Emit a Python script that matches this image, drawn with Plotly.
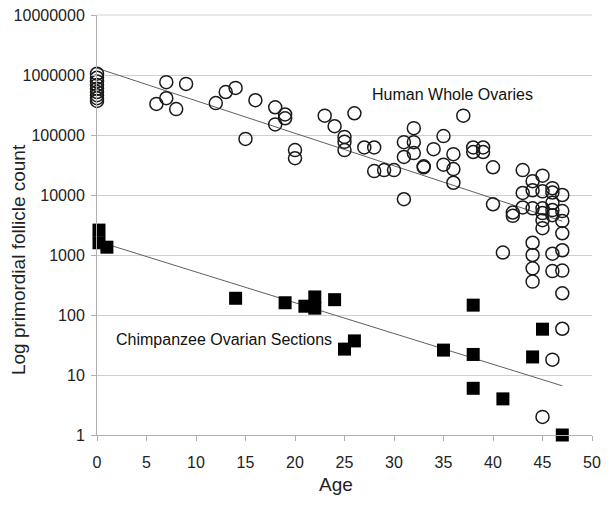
import plotly.graph_objects as go

# Human whole ovaries: age, primordial follicle count
human_age = [0, 0, 0, 0, 0, 0, 0, 0, 0,
             6, 7, 7, 8, 9,
             12, 13, 14, 15, 16,
             18, 18, 19, 19, 20, 20,
             23, 24, 25, 25, 25, 26,
             27, 28, 28, 29, 30,
             31, 31, 31, 32, 32, 32,
             33, 33, 34, 35, 35,
             36, 36, 36, 37,
             38, 38, 39, 39,
             40, 40, 41,
             42, 42,
             43, 43, 43,
             44, 44, 44, 44, 44, 44, 44,
             45, 45, 45, 45, 45, 45, 45,
             46, 46, 46, 46, 46, 46, 46, 46,
             47, 47, 47, 47, 47, 47, 47, 47]
human_count = [1050000, 900000, 780000, 680000, 590000, 520000, 460000, 410000, 370000,
               330000, 760000, 410000, 270000, 710000,
               340000, 520000, 610000, 86000, 380000,
               290000, 150000, 220000, 190000, 56000, 41000,
               210000, 140000, 93000, 77000, 56000, 230000,
               62000, 62000, 25000, 26000, 26000,
               76000, 43000, 8500, 130000, 76000, 50000,
               30000, 29000, 58000, 96000, 32000,
               48000, 27000, 16000, 210000,
               62000, 52000, 62000, 52000,
               29000, 7000, 1100,
               5100, 4500,
               26000, 10800, 6200,
               17000, 12000, 6000, 1600, 1000, 600, 360,
               21000, 11500, 6000, 5000, 3800, 2800, 2,
               13000, 11000, 7400, 5600, 4600, 1050, 540, 18,
               10000, 5400, 3700, 2300, 1200, 550, 230, 59]

# Chimpanzee ovarian sections
chimp_age = [0.2, 0.2, 1, 14, 19, 21, 22, 22, 24, 25, 26, 35, 38, 38, 38, 41, 44, 45, 47]
chimp_count = [2600, 1600, 1350, 190, 160, 140, 200, 130, 180, 27, 37, 26, 146, 22, 6, 4, 20, 58, 1]

# Trend lines
human_trend_age = [0, 47]
human_trend_count = [1300000, 3660]
chimp_trend_age = [0, 47]
chimp_trend_count = [1700, 6.6]

y_tick_vals = [1, 10, 100, 1000, 10000, 100000, 1000000, 10000000]
y_tick_text = ["1", "10", "100", "1000", "10000", "100000", "1000000", "10000000"]
x_tick_vals = [0, 5, 10, 15, 20, 25, 30, 35, 40, 45, 50]

FONT = "Liberation Sans, Arial, Helvetica, sans-serif"
TXT = "#222222"
GRID = "#cfcfcf"

fig = go.Figure()
fig.add_trace(go.Scatter(x=human_trend_age, y=human_trend_count, mode="lines",
                         line=dict(color="#606060", width=1), showlegend=False, hoverinfo="skip"))
fig.add_trace(go.Scatter(x=chimp_trend_age, y=chimp_trend_count, mode="lines",
                         line=dict(color="#606060", width=1), showlegend=False, hoverinfo="skip"))
fig.add_trace(go.Scatter(x=human_age, y=human_count, mode="markers", name="Human Whole Ovaries",
                         marker=dict(symbol="circle-open", size=13, color="#1a1a1a",
                                     line=dict(width=1.5, color="#1a1a1a")),
                         cliponaxis=False, showlegend=False))
fig.add_trace(go.Scatter(x=chimp_age, y=chimp_count, mode="markers", name="Chimpanzee Ovarian Sections",
                         marker=dict(symbol="square", size=13, color="#000000",
                                     line=dict(width=0)),
                         cliponaxis=False, showlegend=False))

fig.add_annotation(x=35.9, y=5.67, xref="x", yref="y", text="Human Whole Ovaries",
                   showarrow=False, font=dict(family=FONT, size=16, color="#111111"))
fig.add_annotation(x=12.8, y=1.6, xref="x", yref="y", text="Chimpanzee Ovarian Sections",
                   showarrow=False, font=dict(family=FONT, size=16, color="#111111"))
# axis titles
fig.add_annotation(x=-0.1596, y=0.419, xref="paper", yref="paper", text="Log primordial follicle count",
                   textangle=-90, showarrow=False, xanchor="center", yanchor="middle",
                   font=dict(family=FONT, size=19, color=TXT))
fig.add_annotation(x=0.483, y=-0.119, xref="paper", yref="paper", text="Age",
                   showarrow=False, xanchor="center", yanchor="middle",
                   font=dict(family=FONT, size=19, color=TXT))

# top gridline (plotly omits the grid line on the plot edge)
fig.add_shape(type="line", xref="x domain", yref="y domain", x0=0, x1=1, y0=1, y1=1,
              line=dict(color=GRID, width=1), layer="below")

fig.update_layout(
    width=611, height=505,
    margin=dict(l=89, r=27, t=7, b=78),
    paper_bgcolor="white", plot_bgcolor="white",
    font=dict(family=FONT, size=16, color=TXT),
    xaxis=dict(range=[0, 50], tickvals=x_tick_vals, showgrid=False, zeroline=False,
               showline=True, linecolor="#b0b0b0", linewidth=1, automargin=False,
               ticks="outside", ticklen=5, tickcolor="#b0b0b0", ticklabelstandoff=8,
               ticklabeloverflow="allow",
               tickfont=dict(size=16, color=TXT)),
    yaxis=dict(type="log", range=[0, 7.00001], tickvals=y_tick_vals, ticktext=y_tick_text,
               showgrid=True, gridcolor=GRID, gridwidth=1, zeroline=False,
               showline=True, linecolor="#b0b0b0", linewidth=1, automargin=False,
               ticks="outside", ticklen=5, tickcolor="#b0b0b0", ticklabelstandoff=3,
               ticklabeloverflow="allow",
               tickfont=dict(size=16, color=TXT)),
)

fig.write_html("out.html")
